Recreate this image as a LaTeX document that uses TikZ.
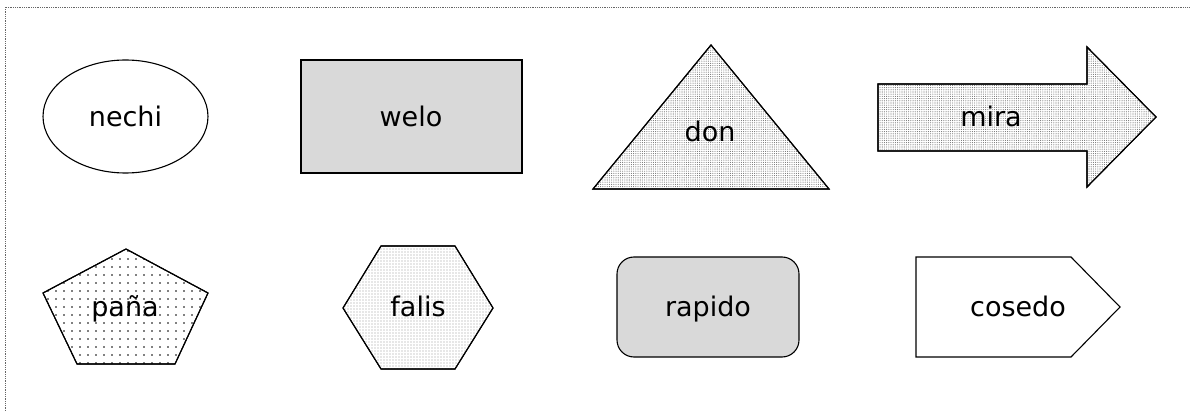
\documentclass[tikz,border=0pt]{standalone}
\usepackage{fontspec}
\setmainfont{DejaVu Sans}
\usetikzlibrary{patterns.meta}
\definecolor{boxgray}{HTML}{D9D9D9}
\begin{document}
\begin{tikzpicture}[x=1pt,y=-1pt,
  shp/.style={draw=black, line width=1.1pt, line join=miter},
  lbl/.style={font=\fontsize{27}{32}\selectfont, inner sep=0pt, anchor=base},
  finedots/.style={pattern={Dots[distance=2.2pt,radius=0.55pt]}, pattern color=black!55},
  lightdots/.style={pattern={Dots[distance=3pt,radius=0.55pt]}, pattern color=black!40},
  sparsedots/.style={pattern={Dots[distance=8pt,radius=0.8pt]}, pattern color=black}]
\useasboundingbox (0,0) rectangle (1190,411);
% frame
\draw[densely dotted, black!60, line width=0.8pt] (5,411) -- (5,7) -- (1190,7);
% row 1
\draw[shp, fill=white] (125.5,116.5) ellipse [x radius=82.5, y radius=56.5];
\node[lbl] (nechi) at (125.5,127) {nechi};
\draw[shp, fill=boxgray] (301,60) rectangle (522,173);
\node[lbl] (welo) at (411,127) {welo};
\draw[shp, fill=white] (593,189) -- (711,45) -- (829,189) -- cycle;
\draw[shp, finedots] (593,189) -- (711,45) -- (829,189) -- cycle;
\node[lbl] (don) at (710,142) {don};
\draw[shp, fill=white] (878,84) -- (1087,84) -- (1087,47) -- (1156,117) -- (1087,187) -- (1087,151) -- (878,151) -- cycle;
\draw[shp, finedots] (878,84) -- (1087,84) -- (1087,47) -- (1156,117) -- (1087,187) -- (1087,151) -- (878,151) -- cycle;
\node[lbl] (mira) at (991,127) {mira};
% row 2
\draw[shp, fill=white] (126,249) -- (208,293) -- (175,364) -- (77,364) -- (43,293) -- cycle;
\draw[shp, sparsedots] (126,249) -- (208,293) -- (175,364) -- (77,364) -- (43,293) -- cycle;
\node[lbl] (pana) at (125,316.5) {paña};
\draw[shp, fill=white] (343,308) -- (381,246) -- (455,246) -- (493,308) -- (455,369) -- (381,369) -- cycle;
\draw[shp, lightdots] (343,308) -- (381,246) -- (455,246) -- (493,308) -- (455,369) -- (381,369) -- cycle;
\node[lbl] (falis) at (418,316.5) {falis};
\draw[shp, fill=boxgray, rounded corners=17pt] (617,257) rectangle (799,357);
\node[lbl] (rapido) at (708,316.5) {rapido};
\draw[shp, fill=white] (916,257) -- (1071,257) -- (1120,307) -- (1071,357) -- (916,357) -- cycle;
\node[lbl] (cosedo) at (1018,316.5) {cosedo};
\end{tikzpicture}
\end{document}
